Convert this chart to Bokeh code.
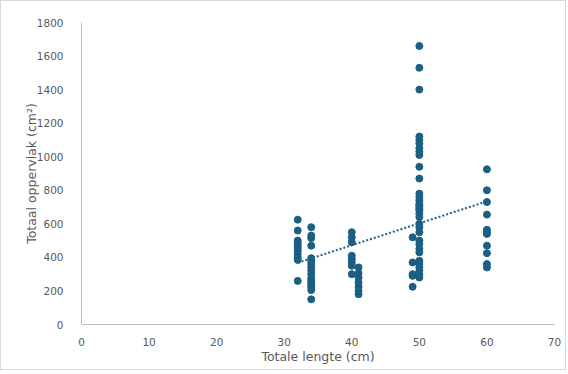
import numpy as np
from bokeh.plotting import figure
from bokeh.models import FixedTicker, Range1d
from bokeh.embed import file_html
from bokeh.resources import INLINE

# Data: total length (cm) vs total surface (cm2)
len_32 = [625, 560, 500, 485, 470, 455, 440, 420, 400, 385, 260]
len_34 = [580, 530, 515, 470, 395, 380, 360, 340, 320, 300, 275, 265, 250, 235, 225, 205, 150]
len_40 = [550, 520, 490, 410, 390, 370, 350, 300]
len_41 = [340, 305, 280, 250, 225, 200, 180]
len_49 = [520, 370, 300, 290, 225]
len_50 = [1660, 1530, 1400, 1120, 1100, 1080, 1050, 1030, 1010, 940, 870, 780, 760,
          740, 720, 710, 700, 690, 680, 660, 640, 600, 580, 550, 500, 480, 450, 430,
          380, 360, 340, 320, 300, 280]
len_60 = [925, 800, 730, 655, 565, 550, 540, 470, 425, 360, 340]

groups = [(32, len_32), (34, len_34), (40, len_40), (41, len_41),
          (49, len_49), (50, len_50), (60, len_60)]

x_ticks = [0, 10, 20, 30, 40, 50, 60, 70]
y_ticks = [0, 200, 400, 600, 800, 1000, 1200, 1400, 1600, 1800]

xs, ys = [], []
for xv, vals in groups:
    xs += [xv] * len(vals)
    ys += vals
xs = np.array(xs, dtype=float)
ys = np.array(ys, dtype=float)

slope, intercept = np.polyfit(xs, ys, 1)
tx = np.array([xs.min(), xs.max()])
ty = slope * tx + intercept

color = "#1B6083"
text_color = "#595959"
font = "DejaVu Sans"

p = figure(width=566, height=370, output_backend="svg", toolbar_location=None,
           x_range=Range1d(0, 70), y_range=Range1d(0, 1800),
           min_border_left=80, min_border_right=13, min_border_top=21, min_border_bottom=47)
p.styles = {"border": "1px solid #d9d9d9"}

p.scatter(xs, ys, size=7, fill_color=color, line_color=color)
p.line(tx, ty, line_color=color, line_width=2, line_dash="2 2")

p.xgrid.visible = False
p.ygrid.visible = False
p.outline_line_color = None

for ax in (p.xaxis[0], p.yaxis[0]):
    ax.axis_line_color = "#bfbfbf"
    ax.major_tick_line_color = None
    ax.minor_tick_line_color = None
    ax.major_label_text_color = text_color
    ax.major_label_text_font = font
    ax.major_label_text_font_size = "10.5px"
    ax.axis_label_text_color = text_color
    ax.axis_label_text_font = font
    ax.axis_label_text_font_size = "12.5px"
    ax.axis_label_text_font_style = "normal"

p.xaxis.ticker = FixedTicker(ticks=x_ticks)
p.yaxis.ticker = FixedTicker(ticks=y_ticks)
p.xaxis.major_label_standoff = 7
p.yaxis.major_label_standoff = 12
p.xaxis.axis_label = "Totale lengte (cm)"
p.yaxis.axis_label = "Totaal oppervlak (cm²)"
p.xaxis.axis_label_standoff = 0
p.yaxis.axis_label_standoff = -5

open("out.html", "w").write(file_html(p, INLINE))
